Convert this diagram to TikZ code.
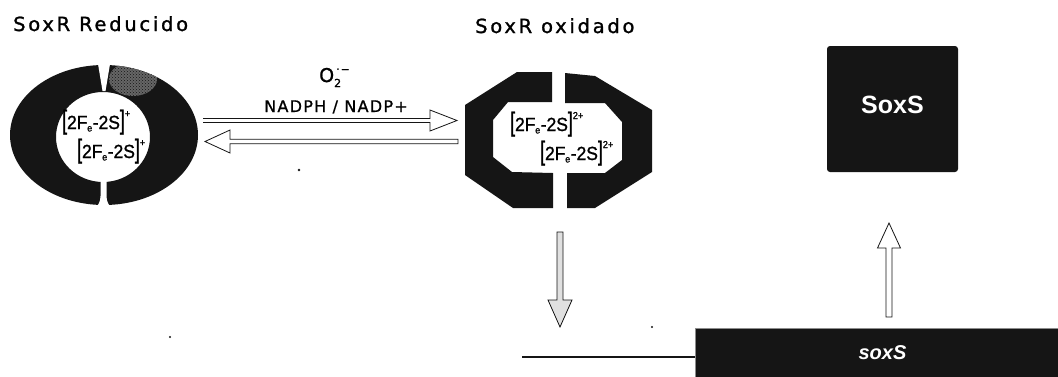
\documentclass[tikz,border=0pt]{standalone}
\usepackage{fontspec}
\setmainfont{Liberation Sans}
\newfontfamily\titlefont[LetterSpace=14,FakeBold=1.2]{DejaVu Sans}
\newfontfamily\cofactorfont[LetterSpace=8,FakeBold=1]{DejaVu Sans}
\newfontfamily\plainsans[FakeBold=1]{DejaVu Sans}
\newfontfamily\clusterfont[FakeBold=1.2]{Liberation Sans}
\usetikzlibrary{calc,patterns}
\definecolor{ink}{HTML}{151515}

% [2Fe-2S] cluster label with its charge
\newcommand\fecluster[1]{%
  \scalebox{0.92}[1]{\clusterfont\fontsize{19}{19}\selectfont
  \scalebox{1}[1.4]{[}2F\kern-0.3pt\raisebox{-2.5pt}{\fontsize{10}{10}\selectfont e}\kern0.5pt-2S\scalebox{1}[1.4]{]}%
  \raisebox{12pt}{\fontsize{10}{10}\selectfont #1}}}

% outlined block arrow: style, start, tip, shaft half-width, head length, head half-width, end closing
\newcommand\hollowarrow[7]{%
  \draw[#1] let \p1=($(#3)-(#2)$), \n1={atan2(\y1,\x1)}, \n2={veclen(\x1,\y1)} in
    [shift={(#2)}, rotate=\n1]
    (0,#4) -- (\n2-#5,#4) -- (\n2-#5,#6) -- (\n2,0) -- (\n2-#5,-#6) -- (\n2-#5,-#4) -- (0,-#4) #7;}

\begin{document}
\begin{tikzpicture}[x=1pt,y=-1pt,
  title/.style={font=\titlefont\fontsize{19.5}{22}\selectfont, inner sep=0pt},
  cofactor/.style={font=\cofactorfont\fontsize{16}{18}\selectfont, inner sep=0pt},
  cluster/.style={inner sep=0pt, anchor=base west},
  hollowline/.style={draw=ink, line width=0.8pt, fill=white, line join=miter},
  protein/.style={fill=ink, rounded corners=3pt, minimum width=131pt, minimum height=126pt,
    text=white, font=\bfseries\fontsize{25}{25}\selectfont, text height=18pt, text depth=10pt},
  gene/.style={fill=ink, draw=black!45, line width=0.6pt, minimum width=375pt, minimum height=50pt,
    text=white, font=\bfseries\itshape\fontsize{20}{20}\selectfont},
  speck/.style={fill=ink}]
\useasboundingbox (0,0) rectangle (1058,376);
\fill[white] (0,0) rectangle (1058,376);

% titles
\node[title, anchor=base west] (redTitle) at (13,31) {SoxR Reducido};
\node[title, anchor=base west] (oxTitle) at (475,33) {SoxR oxidado};

% reduced SoxR: split ring
\fill[ink, even odd rule] (104,135) ellipse [x radius=94, y radius=70]
  (103,137) ellipse [x radius=47, y radius=45];
\begin{scope}
  \clip (104,135) ellipse [x radius=94, y radius=70];
  \fill[black!60] (133,79) ellipse [x radius=24, y radius=17];
  \fill[pattern=crosshatch dots, pattern color=ink] (133,79) ellipse [x radius=24, y radius=17];
\end{scope}
\fill[white] (97,58) -- (111,58) -- (105.5,91) -- (102.5,91) -- cycle;
\fill[white] (100.5,176) -- (100.5,196) .. controls (100.5,202) and (98,206) .. (94,209)
  -- (113,209) .. controls (109,206) and (106.5,202) .. (106.5,196) -- (106.5,176) -- cycle;
\node[cluster] (redFeA) at (62,129) {\fecluster{+}};
\node[cluster] (redFeB) at (77,158) {\fecluster{+}};

% oxidized SoxR: two octagonal halves
\fill[ink] (552,72) -- (517,72) -- (465,105) -- (465,175) -- (513,208) -- (553,208)
  -- (553,173) -- (512,172) -- (493,157) -- (493,120) -- (508,102) -- (552,102) -- cycle;
\fill[ink] (565,73) -- (565,103) -- (605,103) -- (622,122) -- (622,160) -- (605,173)
  -- (567,173) -- (567,208) -- (595,208) -- (652,172) -- (652,110) -- (595,76) -- cycle;
\node[cluster] (oxFeA) at (510,131) {\fecluster{2+}};
\node[cluster] (oxFeB) at (540,160) {\fecluster{2+}};

% redox cofactors
\node[inner sep=0pt, anchor=base west] (superoxide) at (319,82)
  {\plainsans\fontsize{19}{19}\selectfont O\rlap{\raisebox{-5pt}{\fontsize{11}{11}\selectfont 2}}\kern2pt\raisebox{9pt}{\fontsize{11}{11}\selectfont ·\kern1pt−}};
\node[cofactor, anchor=base] (nadph) at (336,112) {NADPH / NADP+};

% arrow end points
\coordinate (fwdStart) at (203,120.5);
\coordinate (fwdTip) at (457,120.5);
\coordinate (backStart) at (458,141.5);
\coordinate (backTip) at (205,141.5);
\coordinate (downStart) at (560,232);
\coordinate (downTip) at (560,327);

% SoxS protein and soxS gene
\node[protein] (soxSprot) at (892.5,109) {SoxS};
\node[gene] (soxSgene) at (882.5,353) {soxS};
\coordinate (upStart) at (889,317);
\coordinate (upTip) at (889,223);
\coordinate (promoter) at (522,357);
\draw[ink, line width=2pt] (promoter) -- (promoter -| soxSgene.west);

% arrows
\hollowarrow{hollowline}{fwdStart}{fwdTip}{2}{27}{10.5}{}
\hollowarrow{hollowline}{backStart}{backTip}{2.3}{25}{11.5}{-- cycle}
\hollowarrow{hollowline, fill=black!12}{downStart}{downTip}{3}{27}{12}{-- cycle}
\hollowarrow{hollowline}{upStart}{upTip}{3}{25}{11.5}{-- cycle}

% specks
\fill[speck] (299,170) circle [radius=1.3];
\fill[speck] (170,337) circle [radius=1.1];
\fill[speck] (652,327) circle [radius=1.2];
\end{tikzpicture}
\end{document}
